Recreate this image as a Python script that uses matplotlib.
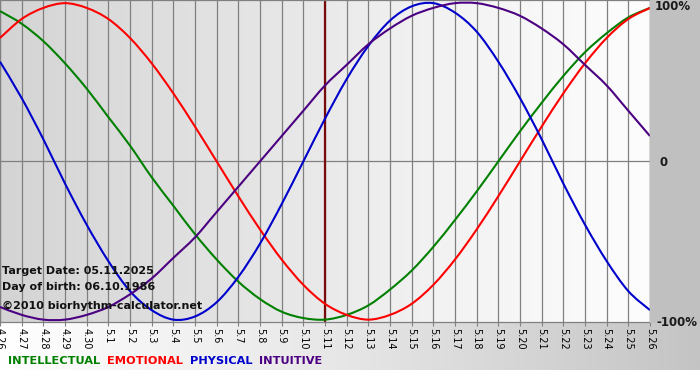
import numpy as np
import matplotlib
matplotlib.use("Agg")
import matplotlib.pyplot as plt
from matplotlib.path import Path
from matplotlib.patches import PathPatch

# dates on the x axis (month.day)
days = ["4.26", "4.27", "4.28", "4.29", "4.30"] + ["5.%d" % d for d in range(1, 27)]
target_day = "5.11"

# values, -1..1
intellectual = [0.95, 0.87, 0.76, 0.62, 0.46, 0.28, 0.10, -0.10, -0.28, -0.46, -0.62,
                -0.76, -0.87, -0.95, -0.99, -1.00, -0.97, -0.91, -0.81, -0.69, -0.54,
                -0.37, -0.19, 0.00, 0.19, 0.37, 0.54, 0.69, 0.81, 0.91, 0.97]
emotional = [0.78, 0.90, 0.97, 1.00, 0.97, 0.90, 0.78, 0.62, 0.43, 0.22, 0.00,
             -0.22, -0.43, -0.62, -0.78, -0.90, -0.97, -1.00, -0.97, -0.90, -0.78,
             -0.62, -0.43, -0.22, 0.00, 0.22, 0.43, 0.62, 0.78, 0.90, 0.97]
physical = [0.63, 0.40, 0.14, -0.14, -0.40, -0.63, -0.82, -0.94, -1.00, -0.98, -0.89,
            -0.73, -0.52, -0.27, 0.00, 0.27, 0.52, 0.73, 0.89, 0.98, 1.00,
            0.94, 0.82, 0.63, 0.40, 0.14, -0.14, -0.40, -0.63, -0.82, -0.94]
intuitive = [-0.92, -0.97, -1.00, -1.00, -0.97, -0.92, -0.84, -0.74, -0.61, -0.48, -0.32,
             -0.16, 0.00, 0.16, 0.32, 0.48, 0.61, 0.74, 0.84, 0.92, 0.97,
             1.00, 1.00, 0.97, 0.92, 0.84, 0.74, 0.61, 0.48, 0.32, 0.16]

series = [("INTELLECTUAL", intellectual, "#008000"),
          ("EMOTIONAL", emotional, "#ff0000"),
          ("PHYSICAL", physical, "#0000cc"),
          ("INTUITIVE", intuitive, "#4b0082")]

W, H = 700, 380
fig = plt.figure(figsize=(W / 100, H / 100), dpi=100)
fig.patch.set_facecolor("white")

def fx(px):
    return px / W

def fy(py):
    return 1 - py / H

def smooth_path(xs, ys):
    # bezier segments through the points (catmull-rom style control points)
    xs = np.asarray(xs, float)
    ys = np.asarray(ys, float)
    n = len(xs)
    verts = [(xs[0], ys[0])]
    codes = [Path.MOVETO]
    for i in range(n - 1):
        i0 = max(i - 1, 0)
        i3 = min(i + 2, n - 1)
        c1 = (xs[i] + (xs[i + 1] - xs[i0]) / 6, ys[i] + (ys[i + 1] - ys[i0]) / 6)
        c2 = (xs[i + 1] - (xs[i3] - xs[i]) / 6, ys[i + 1] - (ys[i3] - ys[i]) / 6)
        verts += [c1, c2, (xs[i + 1], ys[i + 1])]
        codes += [Path.CURVE4] * 3
    return Path(verts, codes)

# gray margin on the right of the plot
fig.patches.append(plt.Rectangle((fx(650), fy(322)), 1 - fx(650), 322 / H,
                                 transform=fig.transFigure, color="#c0c0c0", zorder=0))

# gradient strip under the plot (white -> gray)
bg = fig.add_axes([0, fy(370), 1, 48 / H])
grad = np.linspace(0, 1, 256)[None, :]
bg.imshow(grad, aspect="auto", cmap=matplotlib.colors.LinearSegmentedColormap.from_list(
    "g", ["#ffffff", "#e6e6e6", "#c4c4c4"]), extent=[0, 1, 0, 1])
bg.axis("off")

ax = fig.add_axes([0, fy(322), fx(650), 322 / H])
x = np.arange(len(days))
ax.set_xlim(0, len(days) - 1)
ax.set_ylim(-1.015, 1.02)

# plot background gradient
ax.imshow(grad, aspect="auto", cmap=matplotlib.colors.LinearSegmentedColormap.from_list(
    "p", ["#d4d4d4", "#e2e2e2", "#f2f2f2", "#fdfdfd"]),
    extent=[0, len(days) - 1, -1.015, 1.02], zorder=0)

for xi in x:
    ax.axvline(xi, color="#808080", lw=0.9, zorder=1)
ax.axhline(0, color="#808080", lw=0.9, zorder=1)
ax.axvline(days.index(target_day), color="#7a0a0a", lw=1.6, zorder=2)

for name, vals, col in series:
    ax.add_patch(PathPatch(smooth_path(x, vals), facecolor="none", edgecolor=col,
                           lw=1.5, zorder=3))

for sp in ax.spines.values():
    sp.set_color("#808080")
    sp.set_linewidth(0.9)

ax.set_xticks(x)
ax.set_xticklabels(days, rotation=-90, fontsize=7)
ax.tick_params(axis="x", length=3, width=0.8, color="#808080", pad=1)
ax.set_yticks([])

# right side percent labels
for lab, xpx, ypx in [("100%", 655, 7), ("0", 659, 162), ("-100%", 656, 322)]:
    fig.text(fx(xpx), fy(ypx), lab, fontsize=8.5, fontweight="bold",
             va="center", ha="left", color="#1a1a1a")

# info texts
info = [("Target Date: 05.11.2025", 271), ("Day of birth: 06.10.1986", 287),
        ("\u00a92010 biorhythm-calculator.net", 306)]
for txt, ypx in info:
    fig.text(fx(2), fy(ypx), txt, fontsize=8, fontweight="bold", va="center",
             ha="left", color="#111111", zorder=5)

# legend row
xpos = 8
for name, vals, col in series:
    t = fig.text(fx(xpos), fy(361), name, fontsize=8.2, fontweight="bold", color=col,
                 va="center", ha="left")
    fig.canvas.draw()
    bb = t.get_window_extent()
    xpos = bb.x1 + 7

fig.savefig("out.png", dpi=100)
